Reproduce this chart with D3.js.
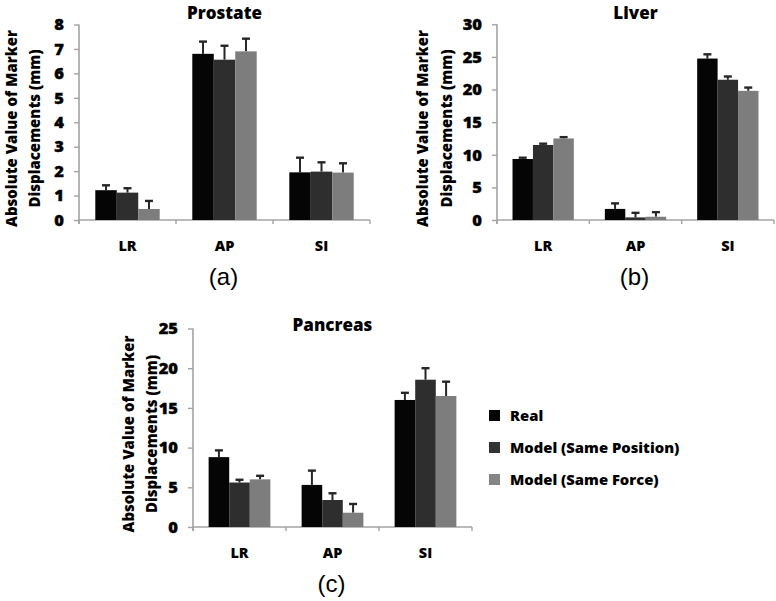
<!DOCTYPE html>
<html><head><meta charset="utf-8">
<script src="https://cdn.jsdelivr.net/npm/d3@7/dist/d3.min.js"></script>
<style>
html,body{margin:0;padding:0;background:#fff;}
svg{display:block;}
</style></head>
<body>
<svg id="chart" width="776" height="601"></svg>
<script>
// ---- data ----
const categories = ["LR", "AP", "SI"];
const seriesNames = ["Real", "Model (Same Position)", "Model (Same Force)"];

const prostateReal = [1.22, 6.80, 1.95];
const prostateSamePos = [1.12, 6.56, 1.98];
const prostateSameForce = [0.45, 6.90, 1.94];
const prostateRealErr = [0.20, 0.50, 0.60];
const prostateSamePosErr = [0.18, 0.57, 0.38];
const prostateSameForceErr = [0.33, 0.52, 0.38];
const prostateTicks = [0, 1, 2, 3, 4, 5, 6, 7, 8];

const liverReal = [9.35, 1.70, 24.75];
const liverSamePos = [11.5, 0.40, 21.5];
const liverSameForce = [12.5, 0.50, 19.8];
const liverRealErr = [0.20, 0.85, 0.65];
const liverSamePosErr = [0.20, 0.70, 0.50];
const liverSameForceErr = [0.20, 0.70, 0.50];
const liverTicks = [0, 5, 10, 15, 20, 25, 30];

const pancreasReal = [8.8, 5.3, 16.0];
const pancreasSamePos = [5.6, 3.4, 18.55];
const pancreasSameForce = [6.0, 1.8, 16.5];
const pancreasRealErr = [0.85, 1.80, 0.90];
const pancreasSamePosErr = [0.35, 0.85, 1.45];
const pancreasSameForceErr = [0.45, 1.10, 1.80];
const pancreasTicks = [0, 5, 10, 15, 20, 25];

const yTitle1 = "Absolute Value of Marker";
const yTitle2 = "Displacements (mm)";

// ---- styles ----
const colors = ["#050505", "#2e2e2e", "#7d7d7d"];
const legendColors = ["#050505", "#333333", "#858585"];
const axisColor = "#a3a3a3";
const FONT = "'Open Sans', Lato, sans-serif";
const W = 800;

const svg = d3.select("#chart");

function panel(opt) {
  const g = svg.append("g");
  const x = d3.scaleBand().domain(categories).range([opt.x0, opt.x1]).paddingInner(0).paddingOuter(0);
  const y = d3.scaleLinear().domain([0, d3.max(opt.ticks)]).range([opt.yZero, opt.yTop]);
  const bw = x.bandwidth();
  const inner = d3.scaleBand().domain(seriesNames).range([bw * 0.168, bw * 0.832]).padding(0);

  // y axis
  const yAxis = d3.axisLeft(y).tickValues(opt.ticks).tickSize(5).tickPadding(10).tickFormat(d3.format("d"));
  const ya = g.append("g").attr("transform", `translate(${opt.x0},0)`).call(yAxis);
  ya.select(".domain").attr("stroke", axisColor).attr("stroke-width", 1.6)
    .attr("d", `M0,${opt.yZero + 4}V${opt.yTop}`);
  ya.selectAll(".tick line").attr("stroke", axisColor).attr("stroke-width", 1.4);
  ya.selectAll(".tick text").attr("fill", "#000").attr("font-family", FONT)
    .attr("font-weight", W).attr("font-size", 16.5).attr("stroke", "#000").attr("stroke-width", 0.4);

  // x axis
  const xa = g.append("g").attr("transform", `translate(0,${opt.yZero})`)
    .call(d3.axisBottom(x).tickSize(0).tickPadding(21));
  xa.select(".domain").attr("stroke", axisColor).attr("stroke-width", 1.6)
    .attr("d", `M${opt.x0},0H${opt.x1}`);
  xa.selectAll(".tick text").attr("fill", "#000").attr("font-family", FONT)
    .attr("font-weight", W).attr("font-size", 14.5);
  // boundary ticks
  const bounds = categories.map(c => x(c)).concat([opt.x1]);
  g.selectAll(".btick").data(bounds).join("line")
    .attr("x1", d => d).attr("x2", d => d)
    .attr("y1", opt.yZero).attr("y2", opt.yZero + 4)
    .attr("stroke", axisColor).attr("stroke-width", 1.4);

  // bars & error bars
  opt.series.forEach((vals, si) => {
    const errs = opt.errors[si];
    const data = categories.map((c, ci) => ({ c, v: vals[ci], e: errs[ci] }));
    const sg = g.append("g");
    const cx = d => x(d.c) + inner(seriesNames[si]) + inner.bandwidth() / 2;
    sg.selectAll(".eline").data(data).join("line")
      .attr("x1", cx).attr("x2", cx)
      .attr("y1", d => y(d.v)).attr("y2", d => y(d.v + d.e))
      .attr("stroke", "#262626").attr("stroke-width", 2);
    sg.selectAll(".ecap").data(data).join("line")
      .attr("x1", d => cx(d) - 4).attr("x2", d => cx(d) + 4)
      .attr("y1", d => y(d.v + d.e)).attr("y2", d => y(d.v + d.e))
      .attr("stroke", "#262626").attr("stroke-width", 2.4);
    sg.selectAll("rect").data(data).join("rect")
      .attr("x", d => x(d.c) + inner(seriesNames[si]))
      .attr("width", inner.bandwidth())
      .attr("y", d => y(d.v))
      .attr("height", d => y(0) - y(d.v))
      .attr("fill", colors[si]);
  });

  // title
  g.append("text").attr("x", (opt.x0 + opt.x1) / 2).attr("y", opt.titleY)
    .attr("text-anchor", "middle").attr("font-family", FONT).attr("font-weight", W)
    .attr("font-size", 17).attr("fill", "#000").text(opt.title);

  // y title (two lines)
  const cy = opt.yTitleCenter;
  const t1 = g.append("text").attr("transform", `translate(${opt.yTitleX1},${cy}) rotate(-90)`)
    .attr("text-anchor", "middle").attr("dy", "0.35em").attr("font-family", FONT)
    .attr("font-weight", W).attr("font-size", 15).attr("fill", "#000").text(yTitle1);
  const natural = t1.node().getComputedTextLength();
  const fs = 15 * opt.yTitleLen / natural;
  t1.attr("font-size", fs);
  g.append("text").attr("transform", `translate(${opt.yTitleX2},${cy}) rotate(-90)`)
    .attr("text-anchor", "middle").attr("dy", "0.35em").attr("font-family", FONT)
    .attr("font-weight", W).attr("font-size", fs).attr("fill", "#000").text(yTitle2);

  // panel label
  g.append("text").attr("x", (opt.x0 + opt.x1) / 2 - 1).attr("y", opt.labelY)
    .attr("text-anchor", "middle").attr("font-family", "'Liberation Sans', Arial, sans-serif")
    .attr("font-size", 24).attr("fill", "#000").text(opt.label);
}

panel({
  title: "Prostate", label: "(a)",
  x0: 79, x1: 370, yZero: 220, yTop: 24.5, ticks: prostateTicks,
  series: [prostateReal, prostateSamePos, prostateSameForce],
  errors: [prostateRealErr, prostateSamePosErr, prostateSameForceErr],
  titleY: 19, labelY: 285,
  yTitleX1: 12, yTitleX2: 35, yTitleCenter: 128.5, yTitleLen: 197
});

panel({
  title: "Liver", label: "(b)",
  x0: 497, x1: 774, yZero: 220, yTop: 24.3, ticks: liverTicks,
  series: [liverReal, liverSamePos, liverSameForce],
  errors: [liverRealErr, liverSamePosErr, liverSameForceErr],
  titleY: 19, labelY: 285,
  yTitleX1: 423, yTitleX2: 447, yTitleCenter: 128.5, yTitleLen: 197
});

panel({
  title: "Pancreas", label: "(c)",
  x0: 193, x1: 472, yZero: 527, yTop: 328.5, ticks: pancreasTicks,
  series: [pancreasReal, pancreasSamePos, pancreasSameForce],
  errors: [pancreasRealErr, pancreasSamePosErr, pancreasSameForceErr],
  titleY: 331, labelY: 592,
  yTitleX1: 129, yTitleX2: 152, yTitleCenter: 434, yTitleLen: 197
});

// legend
const lg = svg.append("g").attr("transform", "translate(489,410)");
const rows = lg.selectAll("g").data(seriesNames).join("g")
  .attr("transform", (d, i) => `translate(0,${i * 32})`);
rows.append("rect").attr("width", 11).attr("height", 11).attr("fill", (d, i) => legendColors[i]);
rows.append("text").attr("x", 21).attr("y", 5.5).attr("dy", "0.36em")
  .attr("font-family", FONT).attr("font-weight", W).attr("font-size", 14.8)
  .attr("fill", "#000").text(d => d);
</script>
</body></html>
